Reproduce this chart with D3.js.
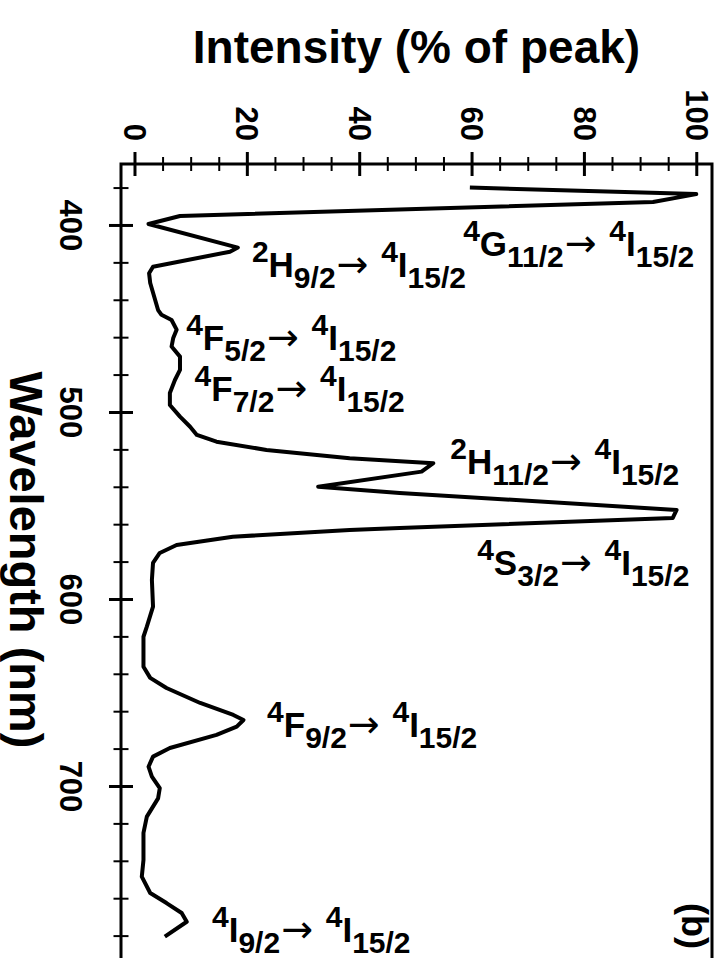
<!DOCTYPE html>
<html>
<head>
<meta charset="utf-8">
<script src="https://cdn.jsdelivr.net/npm/d3@7/dist/d3.min.js"></script>
<style>
  html, body { margin: 0; padding: 0; background: #fff; }
  svg { display: block; }
  text { font-family: "Liberation Sans", Arial, sans-serif; font-weight: bold; fill: #000; }
</style>
</head>
<body>
<svg id="chart" width="725" height="958"></svg>
<script>
// Emission spectrum: wavelength (nm) and intensity (% of peak)
const wavelength = [380, 383.5, 387.7, 395.2, 399.5, 412.1, 414.3, 422.3, 425.8, 431,
  445.5, 448, 450.8, 456, 460.4, 465, 470.4, 477.5, 482.9, 489.8,
  496.3, 502.5, 507.9, 512.3, 515.9, 520.3, 524.8, 527.4, 531.9, 540,
  543.3, 552.4, 556.7, 562, 563.1, 566.7, 571.1, 575.4, 580.7, 589.8,
  604.1, 614.8, 620.2, 636.2, 642.2, 647.6, 655.6, 662, 664.7, 668.3,
  672.7, 679.7, 684.3, 689.7, 695, 701.2, 706.6, 716.4, 725.1, 739.6,
  748.5, 757.2, 762.6, 767.9, 772.6, 780.6];
const intensity = [59.7, 100, 92.3, 8.1, 2.5, 18.4, 17, 3.3, 2.6, 2.8,
  4.2, 4.8, 6.6, 7.5, 6.9, 6.6, 8.1, 8.1, 7.2, 6.3,
  6.3, 8.1, 9.9, 11.1, 14.6, 23.5, 38.3, 53.2, 51.1, 32.7,
  47.2, 96.5, 95.8, 47.2, 38.3, 17.5, 7.5, 4.5, 3.3, 3.1,
  3.3, 2.2, 1.6, 1.6, 2.8, 5.7, 11.7, 17.6, 19.4, 18.2,
  14.6, 6.3, 3.3, 2.5, 3.1, 4.5, 4.2, 2.2, 1.6, 1.6,
  1.3, 2.8, 5.7, 8.4, 9.3, 5.4];

// Axis ticks
const intensityTicks = [0, 20, 40, 60, 80, 100];
const intensityMinor = [5, 10, 15, 25, 30, 35, 45, 50, 55, 65, 70, 75, 85, 90, 95];
const wavelengthTicks = [400, 500, 600, 700];
const wavelengthMinor = [380, 420, 440, 460, 480, 520, 540, 560, 580, 620, 640, 660, 680, 720, 740, 760, 780];

// Er3+ transitions: upper level (multiplicity, term, J) -> lower level
const upperMult = ["4", "2", "4", "4", "2", "4", "4", "4"];
const upperTerm = ["G", "H", "F", "F", "H", "S", "F", "I"];
const upperJ = ["11/2", "9/2", "5/2", "7/2", "11/2", "3/2", "9/2", "9/2"];
const lowerMult = "4", lowerTerm = "I", lowerJ = "15/2";

// Label placement (intensity %, wavelength nm) for the left/baseline of each transition label
const labelAnchorI = [58.5, 20.9, 9.2, 10.7, 56.2, 61, 23.6, 13.8];
const labelAnchorW = [416.6, 427.8, 466.8, 494.1, 533.2, 587.2, 673.8, 783.4];

const svg = d3.select("#chart");

const x = d3.scaleLinear().domain([-2.4, 102.8]).range([121, 712]);
const y = d3.scaleLinear().domain([367.4, 800]).range([164, 973]);

// Frame
svg.append("rect")
  .attr("x", x.range()[0]).attr("y", y.range()[0])
  .attr("width", x.range()[1] - x.range()[0])
  .attr("height", y.range()[1] - y.range()[0])
  .attr("fill", "none").attr("stroke", "#000").attr("stroke-width", 3);

const top0 = y.range()[0], left0 = x.range()[0];

// Intensity axis along the top, ticks crossing the frame line
const xMinorAxis = svg.append("g").attr("transform", `translate(0,${top0})`)
  .call(d3.axisTop(x).tickValues(intensityMinor).tickSize(7).tickFormat(""));
xMinorAxis.select(".domain").remove();
xMinorAxis.selectAll(".tick line").attr("y1", 7).attr("stroke-width", 2);

const xAxis = svg.append("g").attr("transform", `translate(0,${top0})`)
  .call(d3.axisTop(x).tickValues(intensityTicks).tickSize(12));
xAxis.select(".domain").remove();
xAxis.selectAll(".tick line").attr("y1", 12).attr("stroke-width", 3);
xAxis.selectAll(".tick text")
  .attr("x", 0).attr("y", 0).attr("dy", "0.35em")
  .attr("text-anchor", "end")
  .attr("transform", "translate(0,-23) rotate(90)")
  .style("font-size", "31px");

// Wavelength axis along the left, ticks crossing the frame line
const yMinorAxis = svg.append("g").attr("transform", `translate(${left0},0)`)
  .call(d3.axisLeft(y).tickValues(wavelengthMinor).tickSize(7.5).tickFormat(""));
yMinorAxis.select(".domain").remove();
yMinorAxis.selectAll(".tick line").attr("x1", 7.5).attr("stroke-width", 2);

const yAxis = svg.append("g").attr("transform", `translate(${left0},0)`)
  .call(d3.axisLeft(y).tickValues(wavelengthTicks).tickSize(12));
yAxis.select(".domain").remove();
yAxis.selectAll(".tick line").attr("x1", 12).attr("stroke-width", 3);
yAxis.selectAll(".tick text")
  .attr("x", 0).attr("y", 0).attr("dy", "0.35em")
  .attr("text-anchor", "middle")
  .attr("transform", "translate(-50,0) rotate(90)")
  .style("font-size", "31px");

svg.selectAll(".tick text").attr("font-family", null).attr("font-size", null);

// Axis titles
svg.append("text")
  .attr("x", (x.range()[0] + x.range()[1]) / 2).attr("y", 63)
  .attr("text-anchor", "middle")
  .style("font-size", "46px")
  .text("Intensity (% of peak)");

svg.append("text")
  .attr("transform", "translate(10,560) rotate(90)")
  .attr("text-anchor", "middle")
  .style("font-size", "47px")
  .text("Wavelength (nm)");

// Panel tag
svg.append("text")
  .attr("transform", "translate(682,903) rotate(90)")
  .attr("text-anchor", "start")
  .style("font-size", "36px")
  .text("(b)");

// Spectrum
const points = wavelength.map((w, i) => [intensity[i], w]);
const line = d3.line().x(d => x(d[0])).y(d => y(d[1]));
svg.append("path")
  .datum(points)
  .attr("d", line)
  .attr("fill", "none")
  .attr("stroke", "#000")
  .attr("stroke-width", 4)
  .attr("stroke-linejoin", "round");

// Transition labels: ^{m}T_{J} -> ^{4}I_{15/2}
const mainSize = 35, smallSize = 30, supShift = 15, subShift = 11;
upperTerm.forEach((term, i) => {
  const t = svg.append("text")
    .attr("x", x(labelAnchorI[i]))
    .attr("y", y(labelAnchorW[i]))
    .style("font-size", mainSize + "px");
  t.append("tspan").attr("dy", -supShift).style("font-size", smallSize + "px").text(upperMult[i]);
  t.append("tspan").attr("dy", supShift).text(term);
  t.append("tspan").attr("dy", subShift).style("font-size", smallSize + "px").text(upperJ[i]);
  t.append("tspan").attr("dy", -subShift).attr("dx", 1)
    .style("font-family", "'DejaVu Sans', sans-serif")
    .style("font-weight", "normal").style("font-size", "38px").text("\u2192");
  t.append("tspan").text(" ");
  t.append("tspan").attr("dy", -supShift).attr("dx", 3).style("font-size", smallSize + "px").text(lowerMult);
  t.append("tspan").attr("dy", supShift).text(lowerTerm);
  t.append("tspan").attr("dy", subShift).style("font-size", smallSize + "px").text(lowerJ);
});
</script>
</body>
</html>
